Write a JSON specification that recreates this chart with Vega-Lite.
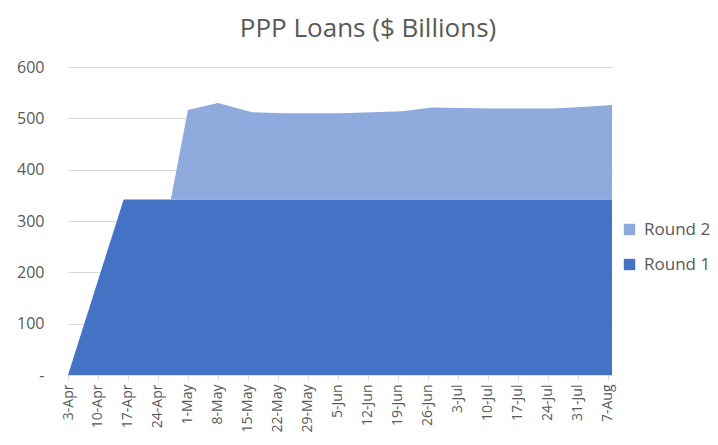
{
  "$schema": "https://vega.github.io/schema/vega-lite/v6.json",
  "autosize": {"type": "none"},
  "width": 544,
  "height": 308,
  "padding": {"left": 68, "top": 67, "right": 106, "bottom": 70},
  "background": "white",
  "title": {
    "text": "PPP Loans ($ Billions)",
    "font": "Open Sans",
    "fontSize": 26,
    "fontWeight": "normal",
    "color": "#595959",
    "anchor": "middle",
    "dx": 28,
    "offset": 17
  },
  "data": {
    "values": [
      {"date": "2020-04-03", "round": "Round 1", "value": 0},
      {"date": "2020-04-16", "round": "Round 1", "value": 342},
      {"date": "2020-04-27", "round": "Round 1", "value": 342},
      {"date": "2020-05-01", "round": "Round 1", "value": 342},
      {"date": "2020-05-08", "round": "Round 1", "value": 342},
      {"date": "2020-05-16", "round": "Round 1", "value": 342},
      {"date": "2020-05-23", "round": "Round 1", "value": 342},
      {"date": "2020-05-30", "round": "Round 1", "value": 342},
      {"date": "2020-06-06", "round": "Round 1", "value": 342},
      {"date": "2020-06-13", "round": "Round 1", "value": 342},
      {"date": "2020-06-20", "round": "Round 1", "value": 342},
      {"date": "2020-06-27", "round": "Round 1", "value": 342},
      {"date": "2020-07-04", "round": "Round 1", "value": 342},
      {"date": "2020-07-11", "round": "Round 1", "value": 342},
      {"date": "2020-07-18", "round": "Round 1", "value": 342},
      {"date": "2020-07-25", "round": "Round 1", "value": 342},
      {"date": "2020-08-01", "round": "Round 1", "value": 342},
      {"date": "2020-08-08", "round": "Round 1", "value": 342},
      {"date": "2020-04-03", "round": "Round 2", "value": 0},
      {"date": "2020-04-16", "round": "Round 2", "value": 0},
      {"date": "2020-04-27", "round": "Round 2", "value": 0},
      {"date": "2020-05-01", "round": "Round 2", "value": 174},
      {"date": "2020-05-08", "round": "Round 2", "value": 188},
      {"date": "2020-05-16", "round": "Round 2", "value": 170},
      {"date": "2020-05-23", "round": "Round 2", "value": 168},
      {"date": "2020-05-30", "round": "Round 2", "value": 168},
      {"date": "2020-06-06", "round": "Round 2", "value": 168},
      {"date": "2020-06-13", "round": "Round 2", "value": 170},
      {"date": "2020-06-20", "round": "Round 2", "value": 172},
      {"date": "2020-06-27", "round": "Round 2", "value": 179},
      {"date": "2020-07-04", "round": "Round 2", "value": 178},
      {"date": "2020-07-11", "round": "Round 2", "value": 177},
      {"date": "2020-07-18", "round": "Round 2", "value": 177},
      {"date": "2020-07-25", "round": "Round 2", "value": 177},
      {"date": "2020-08-01", "round": "Round 2", "value": 180},
      {"date": "2020-08-08", "round": "Round 2", "value": 184}
    ]
  },
  "mark": {"type": "area", "interpolate": "linear"},
  "encoding": {
    "x": {
      "field": "date",
      "type": "temporal",
      "scale": {"type": "utc", "nice": false},
      "axis": {
        "title": null,
        "values": [
          {"year": 2020, "month": 4, "date": 3, "utc": true},
          {"year": 2020, "month": 4, "date": 10, "utc": true},
          {"year": 2020, "month": 4, "date": 17, "utc": true},
          {"year": 2020, "month": 4, "date": 24, "utc": true},
          {"year": 2020, "month": 5, "date": 1, "utc": true},
          {"year": 2020, "month": 5, "date": 8, "utc": true},
          {"year": 2020, "month": 5, "date": 15, "utc": true},
          {"year": 2020, "month": 5, "date": 22, "utc": true},
          {"year": 2020, "month": 5, "date": 29, "utc": true},
          {"year": 2020, "month": 6, "date": 5, "utc": true},
          {"year": 2020, "month": 6, "date": 12, "utc": true},
          {"year": 2020, "month": 6, "date": 19, "utc": true},
          {"year": 2020, "month": 6, "date": 26, "utc": true},
          {"year": 2020, "month": 7, "date": 3, "utc": true},
          {"year": 2020, "month": 7, "date": 10, "utc": true},
          {"year": 2020, "month": 7, "date": 17, "utc": true},
          {"year": 2020, "month": 7, "date": 24, "utc": true},
          {"year": 2020, "month": 7, "date": 31, "utc": true},
          {"year": 2020, "month": 8, "date": 7, "utc": true}
        ],
        "labelExpr": "utcFormat(datum.value, '%-d-%b')",
        "labelAngle": -90,
        "labelAlign": "right",
        "labelBaseline": "middle",
        "labelFont": "Open Sans",
        "labelFontSize": 14,
        "labelColor": "#595959",
        "labelPadding": 4,
        "labelOverlap": false,
        "labelBound": false,
        "labelFlush": false,
        "grid": false,
        "domainColor": "#D9D9D9",
        "tickColor": "#D9D9D9",
        "tickSize": 5
      }
    },
    "y": {
      "field": "value",
      "type": "quantitative",
      "stack": "zero",
      "scale": {"domain": [0, 600], "nice": false},
      "axis": {
        "title": null,
        "values": [0, 100, 200, 300, 400, 500, 600],
        "labelExpr": "datum.value === 0 ? '-\u00a0\u00a0\u00a0' : datum.label",
        "labelFont": "Open Sans",
        "labelFontSize": 16,
        "labelColor": "#595959",
        "labelPadding": 24,
        "domain": false,
        "ticks": false,
        "grid": true,
        "gridColor": "#D9D9D9",
        "gridWidth": 1
      }
    },
    "color": {
      "field": "round",
      "type": "nominal",
      "scale": {"domain": ["Round 2", "Round 1"], "range": ["#8FAADC", "#4472C4"]},
      "legend": {
        "title": null,
        "orient": "none",
        "legendX": 553,
        "legendY": 154,
        "symbolType": "square",
        "symbolSize": 130,
        "symbolStrokeWidth": 0,
        "labelFont": "Open Sans",
        "labelFontSize": 17,
        "labelColor": "#595959",
        "rowPadding": 17,
        "labelOffset": 6
      }
    },
    "order": {"field": "round", "sort": "ascending"}
  },
  "config": {"view": {"stroke": null}}
}
